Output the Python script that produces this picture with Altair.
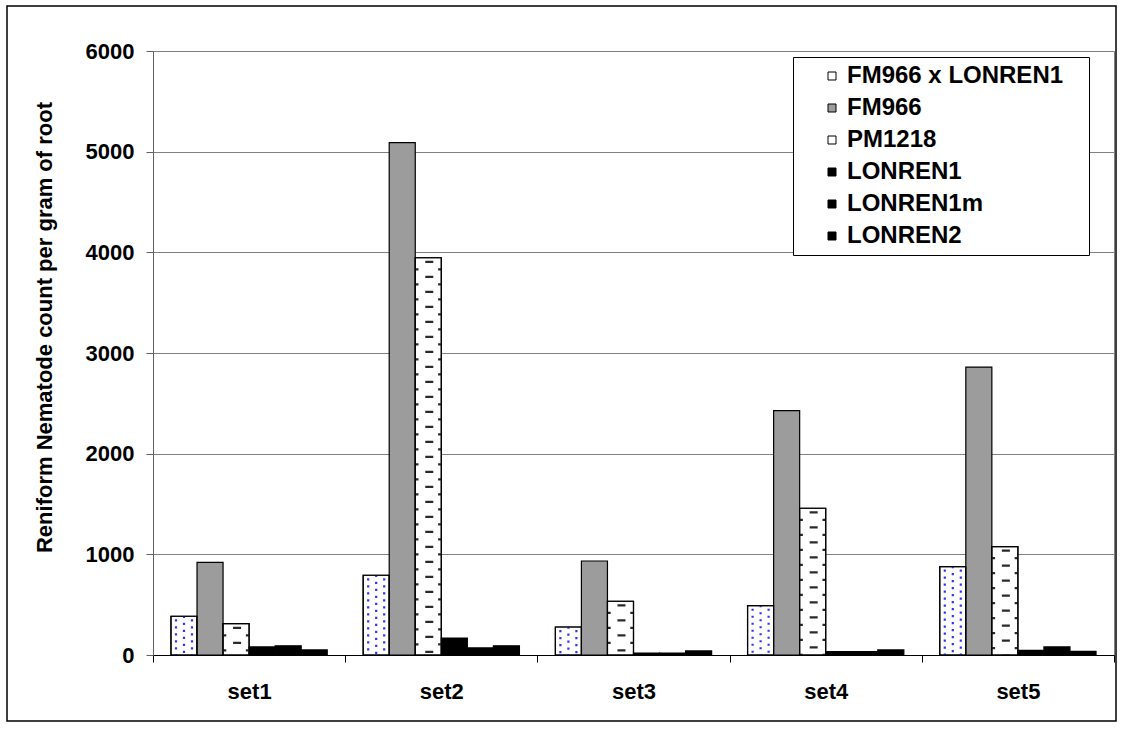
import altair as alt
import pandas as pd

sets = ["set1", "set2", "set3", "set4", "set5"]
series = ["FM966 x LONREN1", "FM966", "PM1218", "LONREN1", "LONREN1m", "LONREN2"]
fmxl = [385, 792, 278, 490, 878]
fm966 = [921, 5090, 934, 2428, 2860]
pm1218 = [311, 3946, 534, 1458, 1077]
lonren1 = [80, 169, 20, 33, 46]
lonren1m = [92, 70, 20, 33, 80]
lonren2 = [50, 92, 40, 50, 36]
y_ticks = [0, 1000, 2000, 3000, 4000, 5000, 6000]
colors = ["white", "#9c9c9c", "white", "black", "black", "black"]

rows = []
for name, vals in zip(series, [fmxl, fm966, pm1218, lonren1, lonren1m, lonren2]):
    for s, v in zip(sets, vals):
        rows.append({"set": s, "series": name, "value": v})
df = pd.DataFrame(rows)

FONT = "Liberation Sans"
W, H = 961, 604
PAD_OUT = 0.69
STEP = W / len(sets)
BAR = STEP / (len(series) + 2 * PAD_OUT)


def band_frac(i, px):
    """fraction of the category step where a pattern column sits (bar i, px offset)."""
    return (PAD_OUT * BAR + (i + 0.5) * BAR + px) / STEP


x_axis = alt.Axis(title=None, labelAngle=0, labelFont=FONT, labelFontSize=22,
                  labelFontWeight="bold", labelColor="black", labelPadding=19,
                  tickBand="extent", tickSize=7, tickColor="black",
                  domainColor="black", grid=False)
x_scale = alt.Scale(paddingInner=0, paddingOuter=0)
x = alt.X("set:N", sort=sets, scale=x_scale, axis=x_axis)
xo = alt.XOffset("series:N", sort=series,
                 scale=alt.Scale(domain=series, paddingInner=0, paddingOuter=PAD_OUT))
y = alt.Y("value:Q",
          scale=alt.Scale(domain=[0, 6000], nice=False),
          axis=alt.Axis(values=y_ticks, format="d",
                        title="Reniform Nematode count per gram of root",
                        titleFont=FONT, titleFontSize=22, titleFontWeight="bold",
                        titleColor="black", titleAngle=270, titleAlign="center",
                        titleBaseline="middle", titleX=-109, titleY=276,
                        labelFont=FONT, labelFontSize=22, labelFontWeight="bold",
                        labelColor="black", labelPadding=12, tickSize=7,
                        tickColor="#606060", domainColor="#606060",
                        grid=True, gridColor="#808080", gridWidth=1))
color = alt.Color("series:N", sort=series,
                  scale=alt.Scale(domain=series, range=colors),
                  legend=alt.Legend(title="i", titleOrient="right", titleOpacity=0,
                                    titleFontSize=24, titleFont=FONT, titlePadding=12,
                                    orient="none", legendX=640, legendY=6,
                                    strokeColor="black", fillColor="white", padding=7,
                                    labelFont=FONT, labelFontSize=24, labelFontWeight="bold",
                                    labelColor="black", labelLimit=0,
                                    symbolType="square", symbolSize=64,
                                    symbolStrokeColor="black", symbolStrokeWidth=1,
                                    symbolOffset=20, labelOffset=3, rowPadding=8))

frame = alt.Chart(pd.DataFrame({"a": [0]})).mark_rect(
    fill="transparent", stroke="black", strokeWidth=1.5
).encode(x=alt.value(-146), x2=alt.value(963), y=alt.value(-45), y2=alt.value(670))

bars = alt.Chart(df).mark_bar(stroke="black", strokeWidth=1.2).encode(
    x=x, xOffset=xo, y=y, color=color)

base = alt.Chart(df)
dot_layers = []
for off, phase in [(-8, 0), (0, 3.5), (8, 0)]:
    dot_layers.append(
        base.transform_filter(alt.datum.series == series[0]).mark_rule(
            color="#3030ff", strokeWidth=2.2, strokeDash=[2.2, 4.8], strokeDashOffset=phase - 3
        ).encode(x=alt.X("set:N", sort=sets, scale=x_scale, axis=x_axis,
                         bandPosition=band_frac(0, off)),
                 y=y, y2=alt.datum(0)))

dash_layers = []
for off, wdt, phase in [(1, 8, -3), (-11.3, 3, 4.5), (11.3, 3, 4.5)]:
    dash_layers.append(
        base.transform_filter(alt.datum.series == series[2]).mark_rule(
            color="#2a2a2a", strokeWidth=wdt, strokeDash=[2.2, 12.8], strokeDashOffset=phase
        ).encode(x=alt.X("set:N", sort=sets, scale=x_scale, axis=x_axis,
                         bandPosition=band_frac(2, off)),
                 y=y, y2=alt.datum(0)))

outline = base.transform_filter(
    (alt.datum.series == series[0]) | (alt.datum.series == series[2])
).mark_bar(fill="transparent", stroke="black", strokeWidth=1.2).encode(x=x, xOffset=xo, y=y)

chart = alt.layer(frame, bars, *dot_layers, *dash_layers, outline).properties(
    width=W, height=H,
    autosize=alt.AutoSizeParams(type="none"),
    padding={"left": 153, "top": 51, "right": 9, "bottom": 76},
    background="white",
).configure_view(stroke="#808080", strokeWidth=1)

chart.save("out.html", embed_options={"renderer": "svg", "actions": False})
